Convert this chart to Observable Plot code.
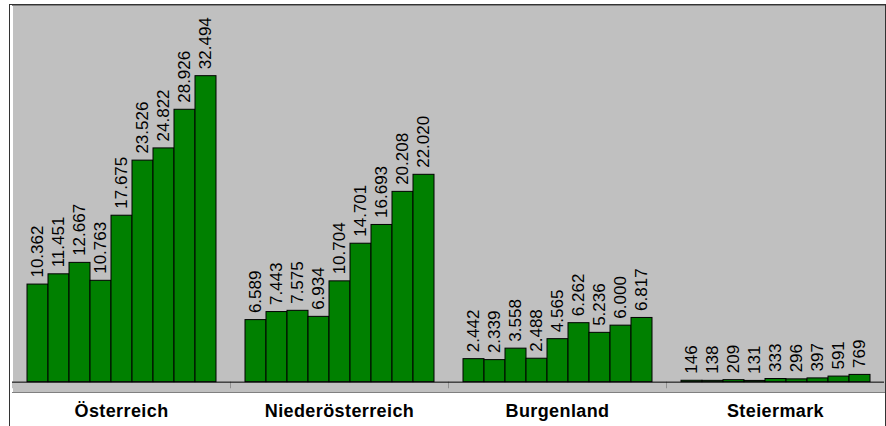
<!DOCTYPE html>
<html>
<head>
<meta charset="utf-8">
<script src="https://cdn.jsdelivr.net/npm/d3@7"></script>
<script src="https://cdn.jsdelivr.net/npm/@observablehq/plot@0.6"></script>
<style>
  html, body { margin: 0; padding: 0; background: #fff; }
  #chart {
    position: absolute; left: 9px; top: 4px;
    width: 875px; height: 440px;
    border-left: 1px solid #333; border-top: 1px solid #333; border-right: 1px solid #333;
  }
  #chart svg { display: block; }
  #chart g[aria-label="fx-axis tick label"] text { letter-spacing: 0.4px; }
</style>
</head>
<body>
<div id="chart"></div>
<script>
const regions = ["Österreich", "Niederösterreich", "Burgenland", "Steiermark"];
const periods = ["1", "2", "3", "4", "5", "6", "7", "8", "9"];
const oesterreich      = [10362, 11451, 12667, 10763, 17675, 23526, 24822, 28926, 32494];
const niederoesterreich = [6589, 7443, 7575, 6934, 10704, 14701, 16693, 20208, 22020];
const burgenland       = [2442, 2339, 3558, 2488, 4565, 6262, 5236, 6000, 6817];
const steiermark       = [146, 138, 209, 131, 333, 296, 397, 591, 769];

const series = [oesterreich, niederoesterreich, burgenland, steiermark];
const data = [];
regions.forEach((r, i) => series[i].forEach((v, j) => data.push({region: r, period: periods[j], value: v})));

const de = d3.formatLocale({decimal: ",", thousands: ".", grouping: [3], currency: ["", " €"]});
const fmt = de.format(",d");

const W = 875, facetW = W / regions.length;

const chart = Plot.plot({
  width: W,
  height: 421,
  marginLeft: 0,
  marginRight: 0,
  marginTop: 0,
  marginBottom: 34,
  style: {fontFamily: "'Liberation Sans', Arial, sans-serif", background: "transparent", color: "#000"},
  fx: {domain: regions, padding: 0, label: null, axis: null},
  x: {domain: periods, paddingInner: 0, paddingOuter: 0.68, range: [0, facetW], axis: null},
  y: {domain: [-1100, 40000], axis: null},
  marks: [
    Plot.frame({fill: "#c0c0c0", shapeRendering: "crispEdges"}),
    Plot.frame({anchor: "top", stroke: "#808080"}),
    Plot.frame({anchor: "bottom", stroke: "#808080"}),
    Plot.ruleY([0], {stroke: "#000", strokeWidth: 1}),
    Plot.rect([0], {y1: 0, y2: -700, insetRight: facetW - 1, fill: "#000"}),
    Plot.barY(data, {fx: "region", x: "period", y: "value", fill: "#008000", stroke: "#000", strokeWidth: 1}),
    Plot.text(data, {
      fx: "region", x: "period", y: "value",
      text: d => fmt(d.value),
      rotate: -90, textAnchor: "start", lineAnchor: "middle",
      dy: -7, fontSize: 17, fill: "#000"
    }),
    Plot.axisFx({anchor: "bottom", tickSize: 0, tickPadding: 12, label: null, fontSize: 18, fontWeight: "bold"})
  ]
});
document.getElementById("chart").appendChild(chart);
</script>
</body>
</html>
